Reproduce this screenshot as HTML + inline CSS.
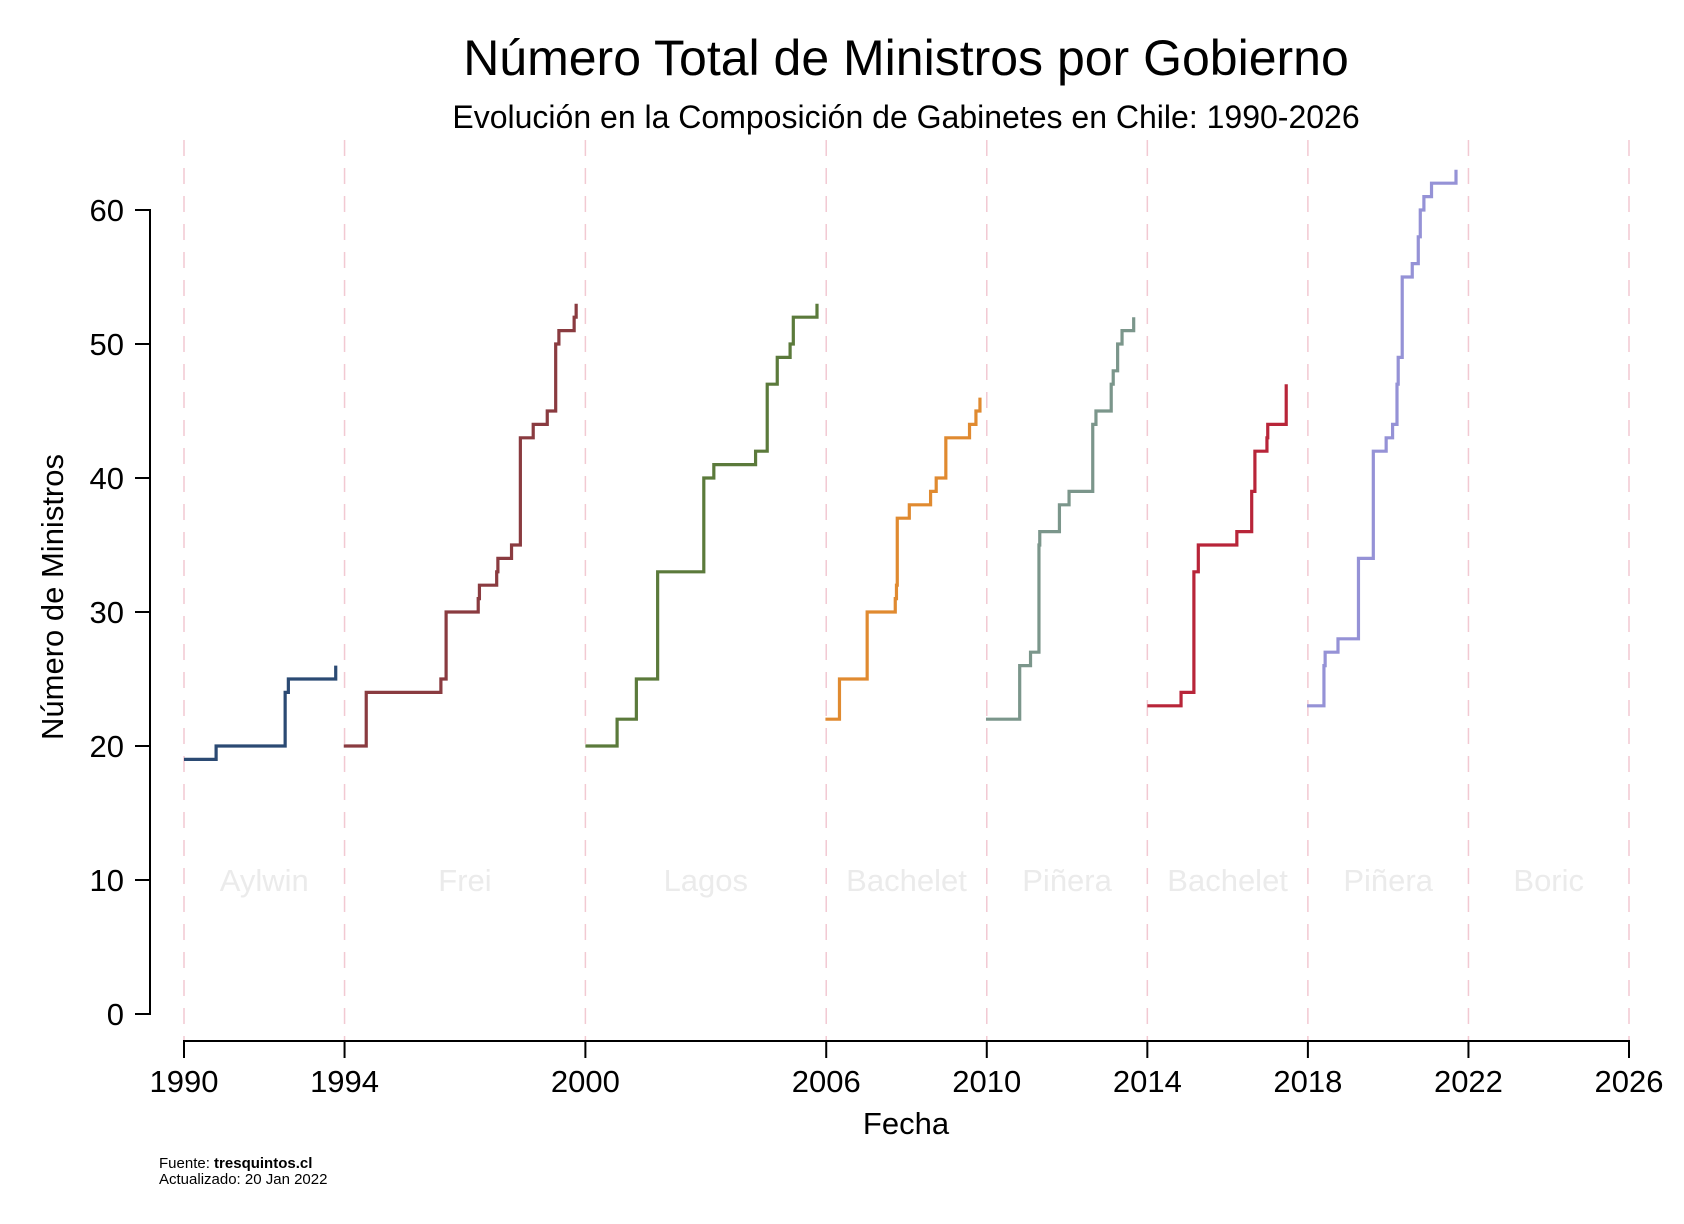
<!DOCTYPE html>
<html><head><meta charset="utf-8"><style>
html,body{margin:0;padding:0;background:#fff;width:1684px;height:1224px;overflow:hidden}
svg text{font-family:"Liberation Sans",Arial,sans-serif}
</style></head><body>
<svg id="chart" width="1684" height="1224" viewBox="0 0 1684 1224" xmlns="http://www.w3.org/2000/svg">
<text x="906" y="75" font-size="50" text-anchor="middle" fill="#000">Número Total de Ministros por Gobierno</text>
<text x="906" y="128" font-size="32" text-anchor="middle" fill="#000">Evolución en la Composición de Gabinetes en Chile: 1990-2026</text>
<g id="grid"></g>
<g id="labels"></g>
<g id="series"></g>
<g id="axes"></g>
<text x="906" y="1134" font-size="31" text-anchor="middle">Fecha</text>
<text transform="translate(63,597) rotate(-90)" font-size="31" text-anchor="middle">Número de Ministros</text>
<text x="159" y="1168" font-size="15">Fuente: <tspan font-weight="bold">tresquintos.cl</tspan></text>
<text x="159" y="1184" font-size="15">Actualizado: 20 Jan 2022</text>
</svg>
<script>
const xTicks = [1990, 1994, 2000, 2006, 2010, 2014, 2018, 2022, 2026];
const yTicks = [0, 10, 20, 30, 40, 50, 60];
const govNames = ["Aylwin","Frei","Lagos","Bachelet","Piñera","Bachelet","Piñera","Boric"];
const govStarts = [1990, 1994, 2000, 2006, 2010, 2014, 2018, 2022];
const govEnds = [1994, 2000, 2006, 2010, 2014, 2018, 2022, 2026];
const seriesColors = ["#2b4a73","#8a3b40","#5b7a3b","#e08a30","#7b968b","#b82539","#9592d6"];
const aylwinDates = [1990.0, 1990.8, 1992.52, 1992.6, 1993.78];
const aylwinVals = [19, 20, 24, 25, 26];
const freiDates = [1993.98, 1994.54, 1996.4, 1996.53, 1997.33, 1997.36, 1997.79, 1997.82, 1998.16, 1998.38, 1998.7, 1999.05, 1999.26, 1999.34, 1999.72, 1999.77];
const freiVals = [20, 24, 25, 30, 31, 32, 33, 34, 35, 43, 44, 45, 50, 51, 52, 53];
const lagosDates = [2000.0, 2000.79, 2001.27, 2001.8, 2002.95, 2003.2, 2004.24, 2004.53, 2004.78, 2005.1, 2005.18, 2005.77];
const lagosVals = [20, 22, 25, 33, 40, 41, 42, 47, 49, 50, 52, 53];
const bachelet1Dates = [2005.98, 2006.33, 2007.02, 2007.72, 2007.75, 2007.77, 2008.07, 2008.6, 2008.74, 2008.98, 2009.57, 2009.73, 2009.83];
const bachelet1Vals = [22, 25, 30, 31, 32, 37, 38, 39, 40, 43, 44, 45, 46];
const pinera1Dates = [2009.98, 2010.82, 2011.09, 2011.3, 2011.32, 2011.81, 2012.05, 2012.64, 2012.72, 2013.1, 2013.15, 2013.26, 2013.37, 2013.66];
const pinera1Vals = [22, 26, 27, 35, 36, 38, 39, 44, 45, 47, 48, 50, 51, 52];
const bachelet2Dates = [2014.0, 2014.84, 2015.16, 2015.27, 2016.23, 2016.6, 2016.68, 2016.98, 2017.0, 2017.46];
const bachelet2Vals = [23, 24, 33, 35, 36, 39, 42, 43, 44, 47];
const pinera2Dates = [2017.98, 2018.4, 2018.43, 2018.75, 2019.26, 2019.63, 2019.95, 2020.11, 2020.22, 2020.25, 2020.35, 2020.6, 2020.75, 2020.8, 2020.89, 2021.08, 2021.69];
const pinera2Vals = [23, 26, 27, 28, 34, 42, 43, 44, 47, 49, 55, 56, 58, 60, 61, 62, 63];

const allDates = [aylwinDates, freiDates, lagosDates, bachelet1Dates, pinera1Dates, bachelet2Dates, pinera2Dates];
const allVals = [aylwinVals, freiVals, lagosVals, bachelet1Vals, pinera1Vals, bachelet2Vals, pinera2Vals];
const seriesNames = ["aylwin","frei","lagos","bachelet-1","pinera-1","bachelet-2","pinera-2"];

const NS = "http://www.w3.org/2000/svg";
const X0 = 184, X1 = 1629, Y0 = 1014, Y1 = 210;
function xs(yr){ return X0 + (yr - 1990) / 36 * (X1 - X0); }
function ys(v){ return Y0 - v / 60 * (Y0 - Y1); }
function mk(tag, attrs, parent){ const e = document.createElementNS(NS, tag); for (const k in attrs) e.setAttribute(k, attrs[k]); parent.appendChild(e); return e; }

const grid = document.getElementById('grid');
xTicks.forEach(t => {
  const l = mk('line', {x1: xs(t), x2: xs(t), y1: 140, y2: 1041, stroke: '#f2c9d2', 'stroke-width': 1.5, 'stroke-dasharray': '16,12'}, grid);
  
  
});

const labels = document.getElementById('labels');
govNames.forEach((n, i) => {
  const t = mk('text', {x: (xs(govStarts[i]) + xs(govEnds[i])) / 2, y: ys(10) + 11, 'font-size': 31, 'text-anchor': 'middle', fill: '#ebebeb'}, labels);
  t.textContent = n;
  
  
});

const sg = document.getElementById('series');
allDates.forEach((d, i) => {
  const v = allVals[i];
  let p = 'M' + xs(d[0]) + ',' + ys(v[0]);
  for (let k = 1; k < d.length; k++) {
    p += ' H' + xs(d[k]) + ' V' + ys(v[k]);
  }
  const path = mk('path', {d: p, fill: 'none', stroke: seriesColors[i], 'stroke-width': 3.2}, sg);
  
  
});

const ax = document.getElementById('axes');
const ya = mk('line', {x1: 150, x2: 150, y1: Y1 - 1, y2: Y0 + 1, stroke: '#000', 'stroke-width': 2}, ax);


yTicks.forEach(t => {
  mk('line', {x1: 135, x2: 150, y1: ys(t), y2: ys(t), stroke: '#000', 'stroke-width': 2}, ax);
  const tx = mk('text', {x: 124, y: ys(t) + 11, 'font-size': 31, 'text-anchor': 'end'}, ax);
  tx.textContent = t;
  
  
});
const xa = mk('line', {x1: X0 - 1, x2: X1 + 1, y1: 1041, y2: 1041, stroke: '#000', 'stroke-width': 2}, ax);


xTicks.forEach(t => {
  mk('line', {x1: xs(t), x2: xs(t), y1: 1041, y2: 1058, stroke: '#000', 'stroke-width': 2}, ax);
  const tx = mk('text', {x: xs(t), y: 1092, 'font-size': 31, 'text-anchor': 'middle'}, ax);
  tx.textContent = t;
  
  
});
</script>
</body></html>
